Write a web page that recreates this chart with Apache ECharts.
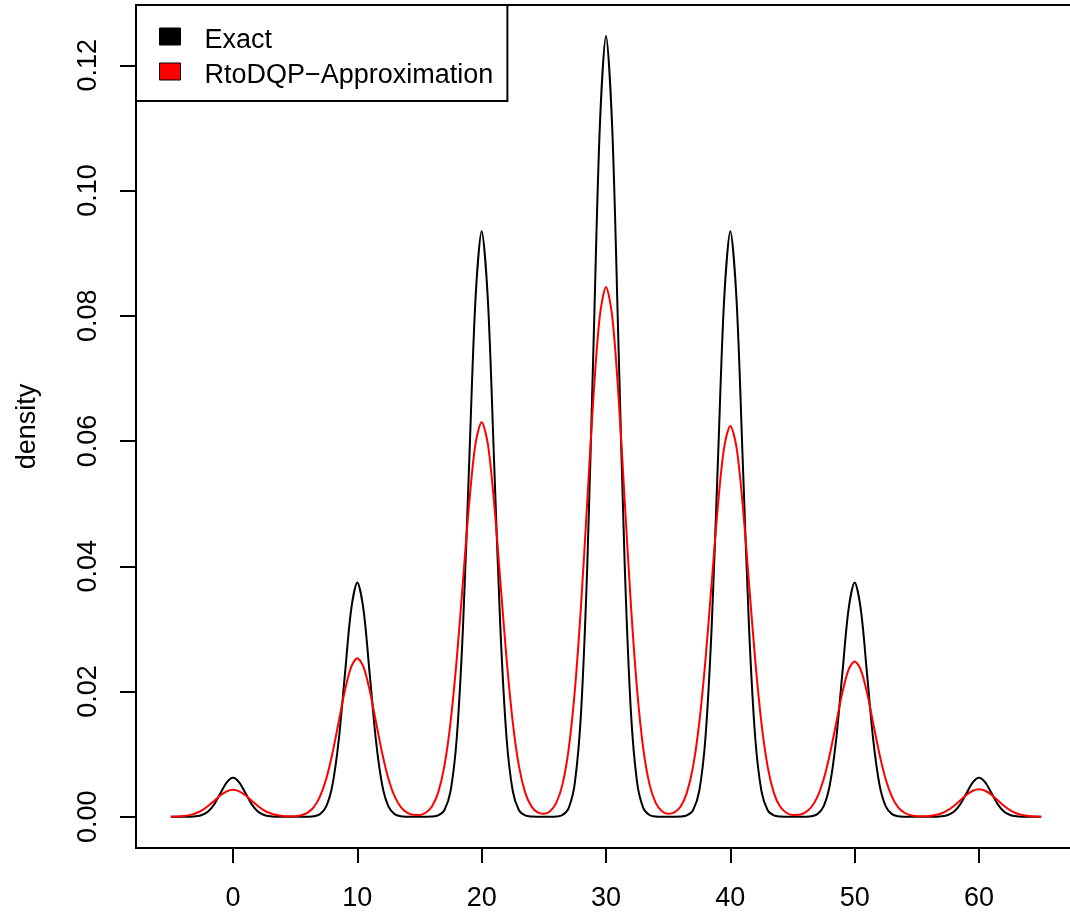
<!DOCTYPE html>
<html>
<head>
<meta charset="utf-8">
<script src="https://cdn.jsdelivr.net/npm/echarts@6/dist/echarts.min.js"></script>
<style>
html,body{margin:0;padding:0;background:#fff;}
#chart{width:1070px;height:913px;}
</style>
</head>
<body>
<div id="chart"></div>
<script>
const xValues = [
-5,-4.5,-4,-3.5,-3,-2.5,-2,-1.5,-1,-0.5,
0,0.5,1,1.5,2,2.5,3,3.5,4,4.5,
5,5.5,6,6.5,7,7.5,8,8.5,9,9.5,
10,10.5,11,11.5,12,12.5,13,13.5,14,14.5,
15,15.5,16,16.5,17,17.5,18,18.5,19,19.5,
20,20.5,21,21.5,22,22.5,23,23.5,24,24.5,
25,25.5,26,26.5,27,27.5,28,28.5,29,29.5,
30,30.5,31,31.5,32,32.5,33,33.5,34,34.5,
35,35.5,36,36.5,37,37.5,38,38.5,39,39.5,
40,40.5,41,41.5,42,42.5,43,43.5,44,44.5,
45,45.5,46,46.5,47,47.5,48,48.5,49,49.5,
50,50.5,51,51.5,52,52.5,53,53.5,54,54.5,
55,55.5,56,56.5,57,57.5,58,58.5,59,59.5,
60,60.5,61,61.5,62,62.5,63,63.5,64,64.5,
65];

const exactDensity = [
0,0,0.000002,0.000014,0.000069,0.000274,0.000844,0.002024,0.003781,0.005501,
0.006234,0.005501,0.003781,0.002024,0.000844,0.000274,0.000069,0.000014,0.000002,0,
0,0.000002,0.000013,0.000082,0.000415,0.001643,0.005062,0.012142,0.022685,0.033006,
0.037401,0.033006,0.022685,0.012142,0.005062,0.001643,0.000415,0.000082,0.000013,0.000002,
0.000001,0.000004,0.000031,0.000204,0.001039,0.004108,0.012654,0.030355,0.056712,0.082515,
0.093502,0.082515,0.056712,0.030355,0.012654,0.004108,0.001039,0.000204,0.000031,0.000004,
0.000001,0.000005,0.000042,0.000273,0.001385,0.005478,0.016872,0.040474,0.075616,0.110020,
0.124669,0.110020,0.075616,0.040474,0.016872,0.005478,0.001385,0.000273,0.000042,0.000005,
0.000001,0.000004,0.000031,0.000204,0.001039,0.004108,0.012654,0.030355,0.056712,0.082515,
0.093502,0.082515,0.056712,0.030355,0.012654,0.004108,0.001039,0.000204,0.000031,0.000004,
0.000001,0.000002,0.000013,0.000082,0.000415,0.001643,0.005062,0.012142,0.022685,0.033006,
0.037401,0.033006,0.022685,0.012142,0.005062,0.001643,0.000415,0.000082,0.000013,0.000002,
0,0,0.000002,0.000014,0.000069,0.000274,0.000844,0.002024,0.003781,0.005501,
0.006234,0.005501,0.003781,0.002024,0.000844,0.000274,0.000069,0.000014,0.000002,0,
0];

const approxDensity = [
0.000014,0.000042,0.000111,0.000262,0.000551,0.001032,0.001726,0.002573,0.003422,0.004061,
0.0043,0.004061,0.003422,0.002573,0.001726,0.001032,0.000551,0.000264,0.000118,0.000068,
0.000098,0.000253,0.000657,0.001544,0.003242,0.006074,0.010153,0.015138,0.020137,0.023897,
0.0253,0.023897,0.020137,0.015138,0.010153,0.006074,0.003243,0.001548,0.000673,0.000312,
0.000293,0.000645,0.001641,0.003847,0.008073,0.015125,0.025283,0.037695,0.050144,0.059505,
0.063,0.059505,0.050144,0.037695,0.025283,0.015125,0.008074,0.003850,0.001657,0.000704,
0.000490,0.000895,0.002211,0.005167,0.010842,0.020311,0.033951,0.050620,0.067336,0.079907,
0.0846,0.079907,0.067336,0.050620,0.033951,0.020311,0.010842,0.005167,0.002211,0.000894,
0.000488,0.000698,0.001641,0.003814,0.007998,0.014981,0.025042,0.037336,0.049666,0.058939,
0.0624,0.058939,0.049666,0.037336,0.025042,0.014981,0.007997,0.003810,0.001625,0.000638,
0.000289,0.000306,0.000660,0.001518,0.003178,0.005954,0.009952,0.014839,0.019739,0.023424,
0.0248,0.023424,0.019739,0.014839,0.009952,0.005954,0.003178,0.001514,0.000644,0.000248,
0.000097,0.000068,0.000121,0.000270,0.000564,0.001056,0.001766,0.002633,0.003502,0.004156,
0.0044,0.004156,0.003502,0.002633,0.001766,0.001056,0.000564,0.000269,0.000114,0.000043,
0.000015];

const xTicks = [0, 10, 20, 30, 40, 50, 60];
const yTicks = [0, 0.02, 0.04, 0.06, 0.08, 0.10, 0.12];
const seriesNames = ['Exact', 'RtoDQP\u2212Approximation'];
const seriesColors = ['#000000', '#ff0000'];

const FONT = "'Liberation Sans', Arial, Helvetica, sans-serif";
const LW = 2;

const chart = echarts.init(document.getElementById('chart'), null, {renderer: 'canvas'});
chart.setOption({
  animation: false,
  backgroundColor: '#ffffff',
  grid: {
    left: 136, top: 5, width: 940, height: 843,
    show: true, borderColor: '#000', borderWidth: LW, backgroundColor: 'transparent',
    containLabel: false, outerBoundsMode: 'none'
  },
  legend: {
    left: 136, top: 5, orient: 'vertical',
    itemWidth: 21, itemHeight: 17, itemGap: 0,
    padding: [14, 14, 12, 23],
    borderColor: '#000', borderWidth: LW, borderRadius: 0,
    backgroundColor: '#ffffff',
    selectedMode: false,
    formatter: '{t|{name}}',
    textStyle: {
      fontFamily: FONT, fontSize: 27, color: '#000',
      rich: {t: {fontFamily: FONT, fontSize: 27, color: '#000', lineHeight: 29, padding: [8, 0, 0, 19]}}
    },
    data: [
      {name: seriesNames[0], icon: 'rect', itemStyle: {color: seriesColors[0], borderColor: '#000', borderWidth: 1}},
      {name: seriesNames[1], icon: 'rect', itemStyle: {color: seriesColors[1], borderColor: '#000', borderWidth: 1}}
    ]
  },
  xAxis: {
    type: 'value', min: -7.8, max: 67.8,
    axisLine: {show: false, onZero: false},
    splitLine: {show: false},
    axisTick: {show: true, customValues: xTicks, length: 15, inside: false, lineStyle: {color: '#000', width: LW}},
    axisLabel: {show: true, customValues: xTicks, margin: 37, fontFamily: FONT, fontSize: 27, color: '#000',
      formatter: v => String(v)}
  },
  yAxis: {
    type: 'value', min: -0.00499, max: 0.12963,
    name: 'density', nameLocation: 'middle', nameGap: 95, nameRotate: 90,
    nameTextStyle: {fontFamily: FONT, fontSize: 27, color: '#000'},
    axisLine: {show: false, onZero: false},
    splitLine: {show: false},
    axisTick: {show: true, customValues: yTicks, length: 16, inside: false, lineStyle: {color: '#000', width: LW}},
    axisLabel: {show: true, customValues: yTicks, rotate: 90, margin: 34, fontFamily: FONT, fontSize: 27, color: '#000',
      formatter: v => v.toFixed(2)}
  },
  series: [
    {
      name: seriesNames[0], type: 'line', showSymbol: false, symbol: 'none', smooth: 0.3,
      lineStyle: {color: seriesColors[0], width: LW}, itemStyle: {color: seriesColors[0]},
      data: xValues.map((x, i) => [x, exactDensity[i]]), z: 2
    },
    {
      name: seriesNames[1], type: 'line', showSymbol: false, symbol: 'none', smooth: 0.3,
      lineStyle: {color: seriesColors[1], width: LW}, itemStyle: {color: seriesColors[1]},
      data: xValues.map((x, i) => [x, approxDensity[i]]), z: 3
    }
  ]
});
</script>
</body>
</html>
